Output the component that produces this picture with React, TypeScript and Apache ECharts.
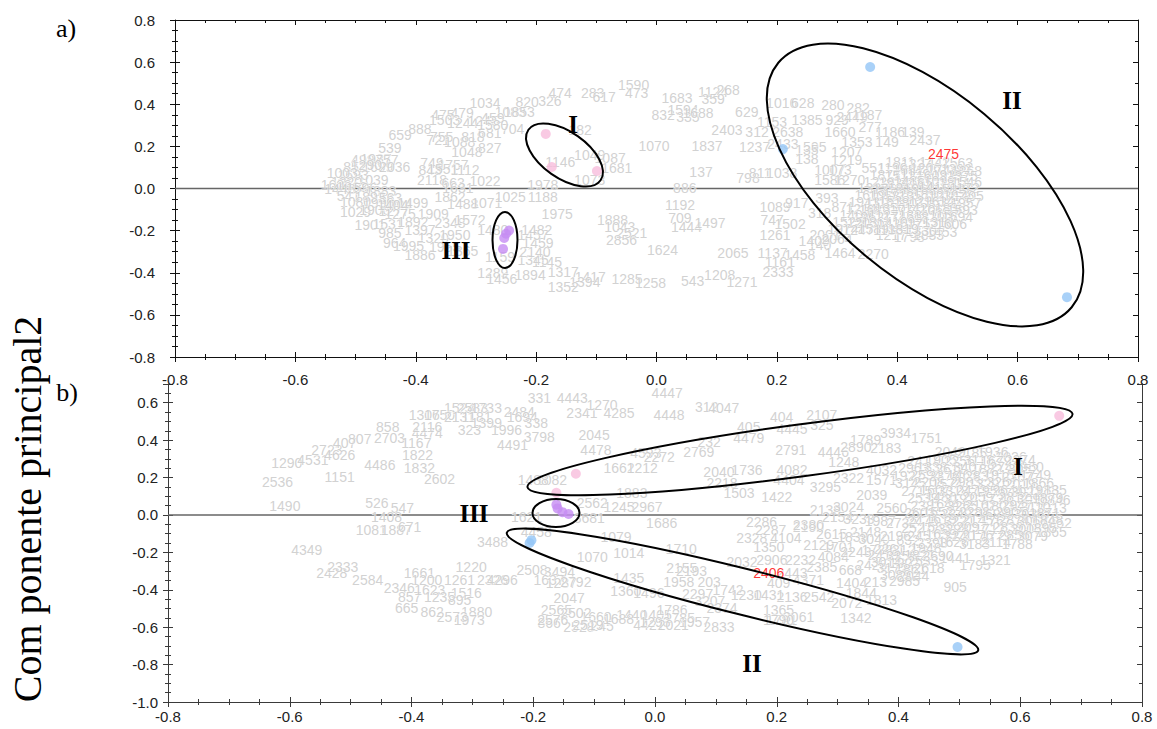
import { useEffect, useRef } from "react";
import * as echarts from "echarts";

type Pt = [number, number, string];
type XY = [number, number];

// ---------- panel a) : sample score labels ----------
const topWest: Pt[] = [
  [-0.443, 0.192, "539"], [-0.426, 0.254, "659"], [-0.488, 0.135, "498"], [-0.466, 0.142, "1987"],
  [-0.448, 0.135, "757"], [-0.501, 0.102, "852"], [-0.463, 0.102, "1699"], [-0.435, 0.102, "2036"],
  [-0.482, 0.112, "1290"], [-0.504, 0.064, "1693"], [-0.522, 0.072, "1003"], [-0.471, 0.040, "1039"],
  [-0.515, 0.032, "1220"], [-0.532, 0.015, "1609"], [-0.506, 0.006, "1863"], [-0.526, -0.004, "1446"],
  [-0.490, 0.002, "1596"], [-0.458, -0.010, "1883"], [-0.512, -0.034, "541"], [-0.476, -0.040, "1893"],
  [-0.442, -0.046, "563"], [-0.500, -0.062, "1080"], [-0.462, -0.070, "1990"], [-0.432, -0.076, "1004"],
  [-0.500, -0.112, "1029"], [-0.468, -0.100, "1900"], [-0.436, -0.108, "1277"],
];

const topMid: Pt[] = [
  [-0.405, -0.069, "1499"], [-0.438, -0.078, "1404"], [-0.476, -0.173, "1901"], [-0.446, -0.169, "1531"],
  [-0.426, -0.121, "1275"], [-0.371, -0.121, "1909"], [-0.405, -0.159, "1892"], [-0.343, -0.164, "2348"],
  [-0.310, -0.150, "1572"], [-0.393, -0.197, "1397"], [-0.443, -0.211, "985"], [-0.435, -0.259, "964"],
  [-0.393, -0.316, "1886"], [-0.371, -0.235, "1320"], [-0.335, -0.221, "1950"], [-0.352, -0.278, "1955"],
  [-0.322, -0.297, "1365"], [-0.412, -0.272, "1995"], [-0.343, -0.040, "1862"], [-0.322, -0.074, "1488"],
  [-0.282, -0.069, "1071"], [-0.243, -0.040, "1025"], [-0.272, -0.197, "1480"],
  [-0.373, 0.040, "2118"], [-0.338, 0.026, "663"], [-0.330, 0.004, "1631"], [-0.285, 0.036, "1022"],
  [-0.373, 0.121, "749"], [-0.338, 0.112, "1757"], [-0.376, 0.088, "843"], [-0.355, 0.093, "1551"],
  [-0.318, 0.088, "1112"], [-0.315, 0.173, "1048"], [-0.277, 0.192, "827"], [-0.393, 0.282, "888"],
  [-0.363, 0.230, "721"], [-0.357, 0.245, "755"], [-0.327, 0.221, "1088"], [-0.305, 0.245, "818"],
  [-0.277, 0.263, "681"], [-0.239, 0.282, "704"], [-0.285, 0.406, "1034"], [-0.215, 0.411, "820"],
  [-0.177, 0.415, "326"], [-0.243, 0.363, "1083"], [-0.228, 0.363, "1853"], [-0.323, 0.358, "479"],
  [-0.355, 0.349, "475"], [-0.352, 0.325, "1503"], [-0.322, 0.311, "1244"], [-0.288, 0.320, "1245"],
  [-0.272, 0.335, "459"], [-0.272, 0.302, "1580"],
];

const topCentre: Pt[] = [
  [-0.160, 0.453, "474"], [-0.106, 0.453, "283"], [-0.038, 0.490, "1590"], [-0.087, 0.434, "617"],
  [-0.033, 0.453, "473"], [0.034, 0.430, "1683"], [0.094, 0.458, "1124"], [0.119, 0.468, "268"],
  [0.094, 0.425, "359"], [0.011, 0.349, "832"], [0.044, 0.373, "1594"], [0.052, 0.340, "335"],
  [0.069, 0.358, "1688"], [-0.127, 0.278, "182"], [-0.160, 0.126, "1146"], [-0.111, 0.159, "1049"],
  [-0.077, 0.145, "1087"], [-0.066, 0.097, "1681"], [-0.111, 0.040, "1073"], [-0.189, 0.017, "1978"],
  [-0.189, -0.040, "1188"], [-0.165, -0.121, "1975"], [-0.004, 0.202, "1070"], [0.084, 0.202, "1837"],
  [0.074, 0.078, "137"], [0.047, 0.002, "886"], [0.150, 0.363, "629"], [0.117, 0.278, "2403"],
  [0.039, -0.078, "1192"], [-0.073, -0.150, "1888"], [-0.061, -0.183, "1043"], [-0.041, -0.211, "2521"],
  [-0.058, -0.245, "2856"], [0.039, -0.140, "709"], [0.050, -0.183, "1444"], [0.089, -0.164, "1497"],
  [0.010, -0.292, "1624"], [0.127, -0.306, "2065"], [0.105, -0.411, "1208"], [0.060, -0.440, "543"],
  [0.142, -0.444, "1271"], [-0.049, -0.430, "1285"], [-0.010, -0.449, "1258"], [-0.110, -0.420, "1417"],
  [-0.119, -0.444, "1394"], [-0.155, -0.468, "1352"], [-0.155, -0.396, "1317"], [-0.182, -0.349, "1145"],
  [-0.205, -0.340, "1345"], [-0.202, -0.302, "2140"], [-0.197, -0.259, "1459"], [-0.205, -0.221, "1457"],
  [-0.199, -0.197, "1482"], [-0.260, -0.325, "1159"], [-0.272, -0.401, "1289"], [-0.257, -0.430, "1456"],
  [-0.210, -0.411, "1894"],
];

const topEast: Pt[] = [
  [0.152, 0.050, "798"], [0.172, 0.073, "811"], [0.208, 0.073, "1038"], [0.163, 0.197, "1237"],
  [0.210, 0.211, "2433"], [0.192, 0.316, "1153"], [0.167, 0.268, "312"], [0.218, 0.268, "2638"],
  [0.208, 0.406, "1016"], [0.243, 0.406, "628"], [0.293, 0.397, "280"], [0.335, 0.382, "282"],
  [0.250, 0.325, "1385"], [0.300, 0.325, "929"], [0.325, 0.340, "2449"], [0.350, 0.349, "1187"],
  [0.305, 0.268, "1660"], [0.355, 0.292, "277"], [0.388, 0.268, "1186"], [0.426, 0.268, "139"],
  [0.446, 0.230, "2437"], [0.333, 0.221, "1353"], [0.383, 0.221, "149"], [0.263, 0.197, "595"],
  [0.250, 0.183, "135"], [0.250, 0.140, "138"], [0.316, 0.173, "1207"], [0.316, 0.135, "1219"],
  [0.288, 0.088, "1007"], [0.305, 0.088, "173"], [0.360, 0.097, "551"], [0.288, 0.040, "1586"],
  [0.321, 0.040, "1270"], [0.283, -0.045, "393"], [0.197, -0.088, "1089"], [0.233, -0.069, "917"],
  [0.271, -0.116, "318"], [0.192, -0.150, "747"], [0.222, -0.169, "1502"], [0.197, -0.221, "1261"],
  [0.193, -0.306, "1137"], [0.238, -0.316, "1458"], [0.205, -0.349, "1161"], [0.202, -0.396, "2333"],
  [0.310, -0.088, "871"], [0.271, -0.268, "140"], [0.305, -0.306, "1464"], [0.360, -0.311, "2270"],
  [0.390, -0.220, "1217"], [0.420, -0.232, "1798"], [0.452, -0.222, "1833"], [0.474, -0.205, "1453"],
  [0.440, -0.200, "1330"], [0.280, -0.222, "2001"], [0.262, -0.250, "1409"], [0.300, -0.240, "2064"],
];

const topCore: Pt[] = [
  [0.405, 0.125, "1811"], [0.432, 0.118, "1327"], [0.462, 0.128, "1442"], [0.500, 0.120, "1563"],
  [0.392, 0.095, "1190"], [0.418, 0.090, "1651"], [0.447, 0.097, "1206"], [0.475, 0.088, "1744"],
  [0.498, 0.094, "1392"], [0.515, 0.085, "1268"], [0.380, 0.065, "1877"], [0.405, 0.060, "1512"],
  [0.430, 0.068, "1139"], [0.457, 0.058, "1603"], [0.483, 0.066, "1925"], [0.508, 0.057, "1375"],
  [0.370, 0.033, "1228"], [0.395, 0.028, "1934"], [0.420, 0.036, "1485"], [0.446, 0.027, "1657"],
  [0.470, 0.035, "1093"], [0.495, 0.026, "1814"], [0.515, 0.033, "1546"], [0.360, 0.002, "1322"],
  [0.385, -0.004, "1759"], [0.410, 0.004, "1260"], [0.436, -0.003, "1968"], [0.460, 0.005, "1411"],
  [0.487, -0.004, "1583"], [0.512, 0.003, "1172"], [0.355, -0.030, "1619"], [0.378, -0.036, "1058"],
  [0.402, -0.028, "1726"], [0.428, -0.035, "1357"], [0.452, -0.027, "1890"], [0.477, -0.036, "1234"],
  [0.502, -0.029, "1678"], [0.518, -0.037, "1405"], [0.345, -0.062, "1943"], [0.370, -0.068, "1116"],
  [0.395, -0.060, "1538"], [0.420, -0.067, "1801"], [0.445, -0.059, "1296"], [0.470, -0.066, "1632"],
  [0.495, -0.060, "1473"], [0.514, -0.068, "1957"], [0.340, -0.095, "1214"], [0.362, -0.100, "1689"],
  [0.388, -0.093, "1350"], [0.413, -0.101, "1771"], [0.438, -0.092, "1428"], [0.463, -0.100, "1065"],
  [0.488, -0.094, "1836"], [0.508, -0.102, "1593"], [0.330, -0.128, "1408"], [0.352, -0.134, "1962"],
  [0.377, -0.126, "1127"], [0.402, -0.133, "1745"], [0.428, -0.125, "1381"], [0.453, -0.134, "1820"],
  [0.478, -0.127, "1157"], [0.500, -0.135, "1694"], [0.318, -0.160, "1525"], [0.342, -0.166, "1203"],
  [0.366, -0.158, "1864"], [0.392, -0.167, "1436"], [0.417, -0.159, "1092"], [0.442, -0.167, "1752"],
  [0.468, -0.160, "1318"], [0.490, -0.168, "1606"], [0.310, -0.192, "1974"], [0.335, -0.198, "1247"],
  [0.360, -0.190, "1589"], [0.385, -0.199, "1133"], [0.410, -0.192, "1819"],
];

// highlighted samples, panel a)
const topPink: XY[] = [[-0.184, 0.259], [-0.174, 0.102], [-0.099, 0.083]];
const topPurple: XY[] = [[-0.245, -0.200], [-0.250, -0.215], [-0.253, -0.235], [-0.255, -0.287]];
const topBlue: XY[] = [[0.355, 0.577], [0.210, 0.187], [0.682, -0.516]];
const topRed: Pt[] = [[0.477, 0.164, "2475"]];

// ---------- panel b) : sample score labels ----------
const bottomWest: Pt[] = [
  [-0.605, 0.278, "1290"], [-0.562, 0.294, "4531"], [-0.539, 0.348, "2723"], [-0.518, 0.321, "4626"],
  [-0.510, 0.385, "407"], [-0.485, 0.406, "807"], [-0.439, 0.471, "858"], [-0.436, 0.412, "2703"],
  [-0.374, 0.438, "4474"], [-0.374, 0.471, "2116"], [-0.392, 0.385, "1167"], [-0.390, 0.321, "1822"],
  [-0.452, 0.267, "4486"], [-0.387, 0.251, "1832"], [-0.518, 0.203, "1151"], [-0.620, 0.176, "2536"],
  [-0.354, 0.193, "2602"], [-0.608, 0.048, "1490"], [-0.457, 0.064, "526"], [-0.415, 0.037, "547"],
  [-0.441, -0.011, "1408"], [-0.466, -0.080, "1081"], [-0.425, -0.080, "1887"], [-0.403, -0.064, "671"],
  [-0.379, 0.535, "1306"], [-0.354, 0.535, "1750"], [-0.321, 0.572, "1524"], [-0.300, 0.572, "2583"],
  [-0.277, 0.572, "1733"], [-0.321, 0.524, "2131"], [-0.293, 0.524, "1181"], [-0.305, 0.455, "323"],
  [-0.277, 0.492, "1399"], [-0.244, 0.455, "1996"], [-0.234, 0.374, "4491"], [-0.190, 0.417, "3798"],
  [-0.223, 0.551, "2484"], [-0.218, 0.524, "1694"], [-0.195, 0.492, "338"],
  [-0.572, -0.187, "4349"], [-0.531, -0.310, "2428"], [-0.513, -0.278, "2333"], [-0.472, -0.348, "2584"],
  [-0.387, -0.310, "1661"], [-0.375, -0.348, "1200"], [-0.420, -0.390, "2346"], [-0.310, -0.417, "1516"],
  [-0.403, -0.439, "857"], [-0.370, -0.401, "1623"], [-0.354, -0.439, "1235"], [-0.321, -0.455, "895"],
  [-0.408, -0.497, "665"], [-0.366, -0.519, "862"], [-0.293, -0.519, "1880"], [-0.333, -0.545, "2573"],
  [-0.305, -0.562, "1973"], [-0.302, -0.278, "1220"], [-0.321, -0.348, "1261"], [-0.267, -0.348, "2326"],
  [-0.251, -0.348, "4296"],
];

const bottomCentre: Pt[] = [
  [-0.190, 0.626, "331"], [-0.136, 0.626, "4443"], [-0.120, 0.545, "2341"], [-0.087, 0.588, "1270"],
  [-0.059, 0.545, "4285"], [0.020, 0.652, "4447"], [0.023, 0.535, "4448"], [0.085, 0.578, "312"],
  [0.113, 0.572, "4047"], [-0.100, 0.428, "2045"], [-0.097, 0.348, "4478"], [-0.015, 0.332, "4593"],
  [0.007, 0.310, "2272"], [0.072, 0.337, "2769"], [-0.059, 0.251, "1662"], [-0.021, 0.251, "1212"],
  [0.105, 0.230, "2040"], [0.151, 0.240, "1736"], [0.110, 0.171, "2218"], [0.138, 0.118, "1503"],
  [0.200, 0.096, "1422"], [-0.038, 0.118, "1883"], [-0.103, 0.064, "2562"], [-0.059, 0.043, "1245"],
  [-0.013, 0.043, "2967"], [-0.170, 0.187, "1082"], [-0.200, 0.187, "1488"], [0.011, -0.043, "1686"],
  [-0.108, -0.016, "3681"], [-0.211, -0.011, "1621"], [-0.064, -0.118, "1079"], [-0.103, -0.225, "1070"],
  [-0.043, -0.203, "1014"], [0.043, -0.182, "1710"], [-0.267, -0.144, "3488"], [-0.195, -0.091, "4458"],
  [-0.202, -0.294, "2508"], [-0.157, -0.305, "3494"], [-0.174, -0.348, "1637"], [-0.154, -0.364, "1287"],
  [-0.130, -0.358, "2792"], [-0.141, -0.444, "2047"], [-0.162, -0.508, "2565"], [-0.174, -0.578, "866"],
  [-0.125, -0.599, "2528"], [-0.097, -0.545, "1660"], [-0.087, -0.594, "245"], [-0.010, -0.588, "4421"],
  [-0.038, -0.535, "1440"], [0.002, -0.535, "1405"], [-0.043, -0.337, "1435"], [-0.048, -0.406, "1360"],
  [-0.010, -0.417, "1496"], [0.039, -0.358, "1958"], [0.089, -0.358, "203"], [0.028, -0.508, "1786"],
  [0.105, -0.599, "2833"], [0.208, -0.562, "1781"], [0.044, -0.283, "2155"], [0.060, -0.300, "2193"],
  [0.143, -0.251, "2032"], [0.175, -0.037, "2286"], [0.159, -0.123, "2328"], [0.070, -0.420, "2297"],
  [0.120, -0.400, "1742"], [0.150, -0.430, "1230"], [0.090, -0.460, "3207"], [0.110, -0.500, "2374"],
  [0.040, -0.550, "1785"], [0.065, -0.570, "1957"], [0.000, -0.570, "1293"], [0.030, -0.590, "2021"],
  [-0.130, -0.525, "2502"], [-0.060, -0.555, "1688"], [-0.110, -0.590, "2519"], [-0.168, -0.560, "2576"],
];

const bottomEast: Pt[] = [
  [0.208, 0.524, "404"], [0.274, 0.535, "2107"], [0.225, 0.460, "4445"], [0.274, 0.481, "325"],
  [0.154, 0.471, "405"], [0.154, 0.412, "4479"], [0.089, 0.390, "232"], [0.223, 0.348, "2791"],
  [0.293, 0.337, "4446"], [0.346, 0.401, "1789"], [0.330, 0.364, "2890"], [0.395, 0.438, "3934"],
  [0.379, 0.358, "2183"], [0.446, 0.412, "1751"], [0.310, 0.283, "1248"], [0.225, 0.240, "4082"],
  [0.220, 0.187, "4404"], [0.280, 0.150, "3295"], [0.318, 0.198, "2322"], [0.372, 0.187, "1571"],
  [0.372, 0.240, "4032"], [0.356, 0.107, "2039"], [0.280, 0.027, "2138"], [0.318, 0.043, "3024"],
  [0.389, 0.037, "2560"], [0.252, -0.064, "2190"], [0.346, -0.091, "2148"], [0.416, -0.134, "832"],
  [0.356, -0.267, "2425"], [0.321, -0.294, "668"], [0.274, -0.278, "2385"], [0.293, -0.225, "4084"],
  [0.323, -0.364, "1404"], [0.362, -0.358, "213"], [0.493, -0.385, "905"], [0.526, -0.267, "1795"],
  [0.559, -0.241, "1321"], [0.493, -0.230, "1441"], [0.330, -0.551, "1342"], [0.315, -0.471, "2072"],
  [0.372, -0.455, "1813"], [0.339, -0.417, "1844"], [0.225, -0.439, "2136"], [0.269, -0.439, "2542"],
  [0.187, -0.428, "1431"], [0.203, -0.364, "409"], [0.252, -0.348, "4371"], [0.225, -0.310, "2443"],
  [0.203, -0.508, "1365"], [0.236, -0.545, "3061"], [0.203, -0.562, "1790"], [0.192, -0.241, "2906"],
  [0.239, -0.241, "2232"], [0.187, -0.171, "1350"], [0.269, -0.160, "2129"], [0.302, -0.171, "1701"],
  [0.190, -0.080, "2287"], [0.252, -0.053, "2380"], [0.215, -0.123, "4104"], [0.585, 0.310, "2026"],
  [0.613, 0.257, "1960"], [0.651, 0.134, "1885"], [0.657, 0.080, "1846"], [0.659, -0.043, "1852"],
  [0.651, -0.091, "1865"], [0.651, 0.037, "2213"], [0.300, -0.010, "2154"], [0.335, -0.020, "3233"],
  [0.370, -0.030, "1987"], [0.405, -0.045, "2732"], [0.290, -0.100, "2615"], [0.325, -0.120, "1839"],
  [0.360, -0.130, "3040"], [0.395, -0.110, "2196"], [0.330, -0.200, "2243"], [0.365, -0.190, "1738"],
];

const bottomCore: Pt[] = [
  [0.485, 0.335, "2049"], [0.520, 0.330, "2185"], [0.555, 0.338, "1936"],
  [0.440, 0.290, "2417"], [0.470, 0.296, "1905"], [0.500, 0.287, "2256"], [0.532, 0.295, "3118"],
  [0.560, 0.286, "1679"], [0.600, 0.292, "2274"], [0.425, 0.250, "2963"], [0.455, 0.256, "1338"],
  [0.485, 0.247, "2611"], [0.515, 0.255, "3407"], [0.545, 0.246, "1882"], [0.575, 0.254, "2740"],
  [0.605, 0.245, "3052"], [0.415, 0.210, "1927"], [0.445, 0.216, "2594"], [0.475, 0.207, "3376"],
  [0.505, 0.215, "1463"], [0.535, 0.206, "2831"], [0.565, 0.214, "1915"], [0.595, 0.205, "2367"],
  [0.625, 0.213, "1749"], [0.420, 0.170, "3145"], [0.450, 0.176, "2208"], [0.480, 0.167, "1574"],
  [0.510, 0.175, "2983"], [0.540, 0.166, "1329"], [0.570, 0.174, "3261"], [0.600, 0.165, "2019"],
  [0.630, 0.173, "1866"], [0.430, 0.130, "2715"], [0.460, 0.136, "1607"], [0.490, 0.127, "3318"],
  [0.520, 0.135, "2473"], [0.550, 0.126, "1956"], [0.580, 0.134, "2644"], [0.610, 0.125, "3021"],
  [0.638, 0.132, "1913"], [0.440, 0.090, "2539"], [0.470, 0.096, "1486"], [0.500, 0.087, "3192"],
  [0.530, 0.095, "2059"], [0.560, 0.086, "1730"], [0.590, 0.094, "2812"], [0.620, 0.085, "3093"],
  [0.645, 0.092, "1879"], [0.445, 0.050, "2381"], [0.475, 0.056, "1644"], [0.505, 0.047, "3265"],
  [0.535, 0.055, "2162"], [0.565, 0.046, "1803"], [0.595, 0.054, "2947"], [0.625, 0.045, "3110"],
  [0.435, 0.010, "2603"], [0.465, 0.016, "1552"], [0.495, 0.007, "3349"], [0.525, 0.015, "2288"],
  [0.555, 0.006, "1698"], [0.585, 0.014, "2905"], [0.615, 0.005, "3036"], [0.640, 0.012, "1871"],
  [0.440, -0.030, "2476"], [0.470, -0.024, "1619"], [0.500, -0.033, "3221"], [0.530, -0.025, "2145"],
  [0.560, -0.034, "1767"], [0.590, -0.026, "2874"], [0.620, -0.035, "3068"], [0.645, -0.028, "1848"],
  [0.430, -0.070, "2527"], [0.460, -0.064, "1583"], [0.490, -0.073, "3298"], [0.520, -0.065, "2097"],
  [0.550, -0.074, "1712"], [0.580, -0.066, "2839"], [0.610, -0.075, "3005"], [0.635, -0.068, "1895"],
  [0.440, -0.110, "2451"], [0.470, -0.104, "1639"], [0.500, -0.113, "3240"], [0.530, -0.105, "2176"],
  [0.560, -0.114, "1779"], [0.590, -0.106, "2856"], [0.620, -0.115, "3079"], [0.455, -0.150, "2398"],
  [0.490, -0.146, "1626"], [0.525, -0.155, "3183"], [0.560, -0.147, "2114"], [0.595, -0.156, "1788"],
  [0.385, -0.180, "2261"], [0.415, -0.186, "3127"], [0.445, -0.178, "1948"], [0.375, -0.215, "2419"],
  [0.405, -0.221, "3356"], [0.435, -0.212, "1821"], [0.465, -0.220, "2690"], [0.380, -0.250, "3014"],
  [0.410, -0.256, "1907"], [0.440, -0.247, "2533"], [0.390, -0.285, "3172"], [0.420, -0.291, "1861"],
  [0.450, -0.282, "2618"], [0.395, -0.320, "3089"], [0.425, -0.326, "2044"], [0.410, -0.355, "2985"],
];

// highlighted samples, panel b)
const bottomPink: XY[] = [[-0.130, 0.220], [-0.162, 0.118], [0.664, 0.530]];
const bottomPurple: XY[] = [[-0.162, 0.055], [-0.160, 0.035], [-0.152, 0.015], [-0.142, 0.005]];
const bottomBlue: XY[] = [[-0.206, -0.150], [-0.203, -0.135], [0.497, -0.706]];
const bottomRed: Pt[] = [[0.187, -0.310, "2406"]];

const zeroLine: XY[] = [[-0.8, 0], [0.8, 0]];

const SANS = "'Liberation Sans', Arial, sans-serif";
const SERIF = "'Liberation Serif', 'Times New Roman', serif";
const PINK = "#f8bddc";
const PURPLE = "#c68cf2";
const BLUE = "#93c6f6";

const fmt = (v: number) => (Math.abs(v) < 1e-9 ? "0.0" : v.toFixed(1));

function toItems(pts: Pt[]) {
  return pts.map(([x, y, id]) => ({ value: [x, y], name: id }));
}

function labelSeries(pts: Pt[], axisIdx: number, color: string) {
  return {
    type: "scatter",
    xAxisIndex: axisIdx,
    yAxisIndex: axisIdx,
    data: toItems(pts),
    symbol: "circle",
    symbolSize: 1,
    itemStyle: { color: "rgba(0,0,0,0)" },
    silent: true,
    z: 2,
    label: {
      show: true,
      position: "inside",
      formatter: "{b}",
      color,
      fontSize: 14,
      fontFamily: SANS,
      textBorderColor: "#ffffff",
      textBorderWidth: 0.8,
    },
  };
}

function dotSeries(pts: XY[], axisIdx: number, color: string) {
  return {
    type: "scatter",
    xAxisIndex: axisIdx,
    yAxisIndex: axisIdx,
    data: pts,
    symbolSize: 10,
    itemStyle: { color },
    silent: true,
    z: 5,
  };
}

function lineSeries(axisIdx: number) {
  return {
    type: "line",
    xAxisIndex: axisIdx,
    yAxisIndex: axisIdx,
    data: zeroLine,
    showSymbol: false,
    silent: true,
    lineStyle: { color: "#666666", width: 1.5 },
    z: 1,
  };
}

function axis(opts: {
  grid: number;
  position: string;
  min: number;
  max: number;
  line: boolean;
  inside: boolean;
  labels: boolean;
  margin?: number;
  minorSplit: number;
  color: string;
  showMax?: boolean;
}) {
  return {
    type: "value",
    gridIndex: opts.grid,
    position: opts.position,
    min: opts.min,
    max: opts.max,
    interval: 0.2,
    axisLine: { show: opts.line, onZero: false, lineStyle: { color: opts.color, width: 1 } },
    axisTick: { show: true, inside: opts.inside, length: 5, lineStyle: { color: opts.color } },
    minorTick: { show: true, splitNumber: opts.minorSplit, length: 3, lineStyle: { color: opts.color } },
    axisLabel: {
      show: opts.labels,
      margin: opts.margin ?? 8,
      color: "#222222",
      fontSize: 15,
      fontFamily: SANS,
      formatter: fmt,
      showMaxLabel: opts.showMax ?? true,
    },
    splitLine: { show: false },
    minorSplitLine: { show: false },
  };
}

function ring(x: number, y: number, rx: number, ry: number, rotation: number) {
  return {
    type: "ellipse",
    x,
    y,
    rotation,
    shape: { cx: 0, cy: 0, rx, ry },
    style: { fill: "none", stroke: "#000000", lineWidth: 2 },
    z: 10,
  };
}

function caption(text: string, x: number, y: number, size: number, bold: boolean) {
  return {
    type: "text",
    x,
    y,
    z: 11,
    style: {
      text,
      fill: "#000000",
      fontSize: size,
      fontFamily: SERIF,
      fontWeight: bold ? "bold" : "normal",
      align: "center",
      verticalAlign: "middle",
      textAlign: "center",
      textVerticalAlign: "middle",
    },
  };
}

export default function App() {
  const ref = useRef<HTMLDivElement>(null);

  useEffect(() => {
    if (!ref.current) return;
    const chart = echarts.init(ref.current, undefined, { renderer: "svg" });
    const dark = "#111111";
    const grey = "#3a3a3a";
    chart.setOption({
      animation: false,
      backgroundColor: "#ffffff",
      grid: [
        { left: 175, top: 20, width: 963, height: 337, containLabel: false },
        { left: 168, top: 384, width: 974, height: 318, containLabel: false },
      ],
      xAxis: [
        axis({ grid: 0, position: "bottom", min: -0.8, max: 0.8, line: true, inside: false, labels: true, margin: 15, minorSplit: 4, color: dark }),
        axis({ grid: 0, position: "bottom", min: -0.8, max: 0.8, line: false, inside: true, labels: false, minorSplit: 4, color: dark }),
        axis({ grid: 0, position: "top", min: -0.8, max: 0.8, line: true, inside: true, labels: false, minorSplit: 4, color: dark }),
        axis({ grid: 1, position: "bottom", min: -0.8, max: 0.8, line: true, inside: false, labels: true, margin: 7, minorSplit: 4, color: grey }),
        axis({ grid: 1, position: "bottom", min: -0.8, max: 0.8, line: false, inside: true, labels: false, minorSplit: 4, color: grey }),
      ],
      yAxis: [
        axis({ grid: 0, position: "left", min: -0.8, max: 0.8, line: true, inside: false, labels: true, margin: 20, minorSplit: 4, color: dark }),
        axis({ grid: 0, position: "left", min: -0.8, max: 0.8, line: false, inside: true, labels: false, minorSplit: 4, color: dark }),
        axis({ grid: 0, position: "right", min: -0.8, max: 0.8, line: true, inside: true, labels: false, minorSplit: 2, color: dark }),
        axis({ grid: 1, position: "left", min: -1.0, max: 0.7, line: true, inside: false, labels: true, margin: 10, minorSplit: 4, color: grey, showMax: false }),
        axis({ grid: 1, position: "left", min: -1.0, max: 0.7, line: false, inside: true, labels: false, minorSplit: 4, color: grey }),
        axis({ grid: 1, position: "right", min: -1.0, max: 0.7, line: true, inside: true, labels: false, minorSplit: 2, color: grey }),
      ],
      series: [
        lineSeries(0),
        labelSeries([...topWest, ...topMid, ...topCentre, ...topEast, ...topCore], 0, "#c6c6c6"),
        labelSeries(topRed, 0, "#ff0000"),
        dotSeries(topPink, 0, PINK),
        dotSeries(topPurple, 0, PURPLE),
        dotSeries(topBlue, 0, BLUE),
        lineSeries(3),
        labelSeries([...bottomWest, ...bottomCentre, ...bottomEast, ...bottomCore], 3, "#c6c6c6"),
        labelSeries(bottomRed, 3, "#ff0000"),
        dotSeries(bottomPink, 3, PINK),
        dotSeries(bottomPurple, 3, PURPLE),
        dotSeries(bottomBlue, 3, BLUE),
      ],
      graphic: [
        caption("a)", 66, 28, 26, false),
        caption("b)", 67, 392, 26, false),
        {
          type: "text",
          x: 27,
          y: 509,
          rotation: Math.PI / 2,
          z: 11,
          style: {
            text: "Com ponente principal2",
            fill: "#000000",
            fontSize: 40,
            fontFamily: SERIF,
            align: "center",
            verticalAlign: "middle",
            textAlign: "center",
            textVerticalAlign: "middle",
          },
        },
        ring(564.5, 155, 44, 23, -0.61),
        ring(505, 240, 12.5, 28, 0),
        ring(925, 185, 191, 92.5, -0.695),
        ring(800, 450.5, 275, 26, 0.133),
        ring(742.5, 591.5, 243, 23, -0.244),
        ring(556, 513, 23.5, 14, 0),
        caption("I", 573, 124, 25, true),
        caption("II", 1012, 100, 25, true),
        caption("III", 456, 250, 25, true),
        caption("III", 474, 513, 25, true),
        caption("I", 1018, 466, 25, true),
        caption("II", 752, 663, 25, true),
      ],
    });
    return () => chart.dispose();
  }, []);

  return (
    <div
      ref={ref}
      style={{ position: "fixed", left: 0, top: 0, width: 1157, height: 729, background: "#fff" }}
    />
  );
}
